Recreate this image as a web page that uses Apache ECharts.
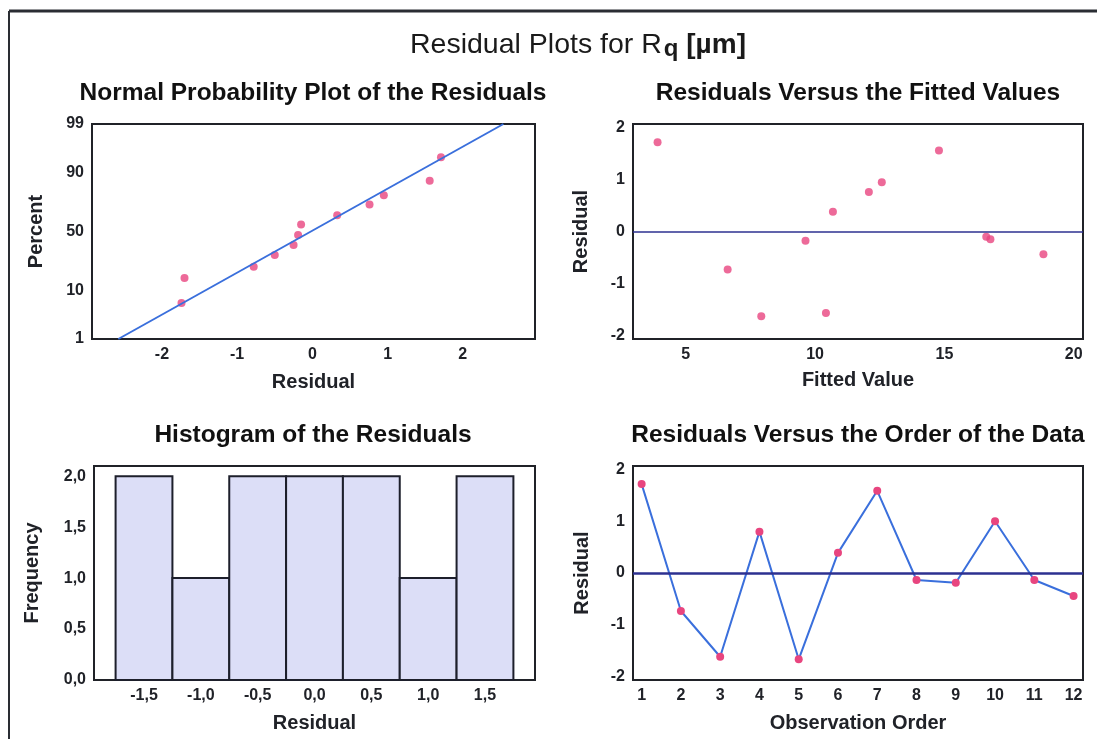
<!DOCTYPE html>
<html>
<head>
<meta charset="utf-8">
<script src="https://cdn.jsdelivr.net/npm/echarts@6/dist/echarts.min.js"></script>
<style>
  html, body { margin: 0; padding: 0; background: #ffffff; }
  #chart { width: 1097px; height: 739px; }
</style>
</head>
<body>
<div id="chart"></div>
<script>
// ---- Normal probability plot: residuals and their plotted percents ----
const probResidual = [-1.74, -1.70, -0.78, -0.50, -0.25, -0.19, -0.15, 0.33, 0.76, 0.95, 1.56, 1.71];
const probPercent  = [6.1, 15.7, 22.3, 30.5, 38.5, 47.0, 56.0, 63.7, 72.0, 78.4, 86.4, 94.6];
// fitted normal line, as (residual, percent) end points
const fitLineResidual = [-2.58, 2.54];
const fitLinePercent  = [1, 99];
const percentTicks = [1, 10, 50, 90, 99];
const probResidualTicks = [-2, -1, 0, 1, 2];

// ---- Residuals versus fitted values ----
const fittedValues = [3.91, 6.62, 7.92, 9.63, 10.42, 10.69, 12.08, 12.58, 14.79, 16.62, 16.78, 18.83];
const fittedResid  = [1.72, -0.73, -1.63, -0.18, -1.57, 0.38, 0.76, 0.95, 1.56, -0.10, -0.15, -0.44];
const fittedTicks = [5, 10, 15, 20];
const residTicks = [-2, -1, 0, 1, 2];

// ---- Histogram of the residuals ----
const binCenters = [-1.5, -1.0, -0.5, 0.0, 0.5, 1.0, 1.5];
const binCounts  = [2, 1, 2, 2, 2, 1, 2];
const binWidth = 0.5;
const freqTicks = [0, 0.5, 1.0, 1.5, 2.0];

// ---- Residuals versus observation order ----
const observation = [1, 2, 3, 4, 5, 6, 7, 8, 9, 10, 11, 12];
const orderResid  = [1.72, -0.735, -1.62, 0.80, -1.67, 0.39, 1.59, -0.135, -0.19, 1.00, -0.135, -0.445];

// inverse of the standard normal CDF (Acklam), used for the probability scale
function probit(p) {
  const a = [-3.969683028665376e+01, 2.209460984245205e+02, -2.759285104469687e+02, 1.383577518672690e+02, -3.066479806614716e+01, 2.506628277459239e+00];
  const b = [-5.447609879822406e+01, 1.615858368580409e+02, -1.556989798598866e+02, 6.680131188771972e+01, -1.328068155288572e+01];
  const c = [-7.784894002430293e-03, -3.223964580411365e-01, -2.400758277161838e+00, -2.549732539343734e+00, 4.374664141464968e+00, 2.938163982698783e+00];
  const d = [7.784695709041462e-03, 3.224671290700398e-01, 2.445134137142996e+00, 3.754408661907416e+00];
  const pl = 0.02425, ph = 1 - pl;
  let q, r;
  if (p < pl) {
    q = Math.sqrt(-2 * Math.log(p));
    return (((((c[0]*q+c[1])*q+c[2])*q+c[3])*q+c[4])*q+c[5]) / ((((d[0]*q+d[1])*q+d[2])*q+d[3])*q+1);
  }
  if (p <= ph) {
    q = p - 0.5; r = q * q;
    return (((((a[0]*r+a[1])*r+a[2])*r+a[3])*r+a[4])*r+a[5])*q / (((((b[0]*r+b[1])*r+b[2])*r+b[3])*r+b[4])*r+1);
  }
  q = Math.sqrt(-2 * Math.log(1 - p));
  return -(((((c[0]*q+c[1])*q+c[2])*q+c[3])*q+c[4])*q+c[5]) / ((((d[0]*q+d[1])*q+d[2])*q+d[3])*q+1);
}

const zTicks = percentTicks.map(p => probit(p / 100));
const zMin = probit(0.01), zMax = probit(0.99);

const FONT = 'Liberation Sans';
const INK = '#202228';
const PINK = '#e8457f';
const BLUE = '#3a6fdc';
const NAVY = '#2d3090';

const comma = v => v.toFixed(1).replace('.', ',');

function axisLabel(custom, formatter) {
  return {
    customValues: custom,
    formatter: formatter,
    color: INK,
    fontFamily: FONT,
    fontWeight: 'bold',
    fontSize: 16,
    margin: 8
  };
}
function nameStyle() {
  return { color: INK, fontFamily: FONT, fontWeight: 'bold', fontSize: 20 };
}
const noLine = { show: false };

const grids = [
  { left: 92,  top: 124, width: 443, height: 215 },
  { left: 633, top: 124, width: 450, height: 215 },
  { left: 94,  top: 466, width: 441, height: 214 },
  { left: 633, top: 466, width: 450, height: 214 }
].map(g => Object.assign(g, { show: true, borderColor: INK, borderWidth: 2, backgroundColor: '#ffffff' }));

const subtitle = (x, y, text) => ({
  type: 'text', x: x, y: y,
  style: { text: text, textAlign: 'center', textVerticalAlign: 'middle',
    fontFamily: FONT, fontWeight: 'bold', fontSize: 24.5, fill: '#111' }
});

const option = {
  animation: false,
  backgroundColor: '#ffffff',
  grid: grids,
  xAxis: [
    { gridIndex: 0, type: 'value', min: -2.93, max: 2.96,
      axisLine: noLine, axisTick: noLine, splitLine: noLine,
      axisLabel: axisLabel(probResidualTicks, v => String(v)),
      name: 'Residual', nameLocation: 'middle', nameGap: 33, nameTextStyle: nameStyle() },
    { gridIndex: 1, type: 'value', min: 2.96, max: 20.36,
      axisLine: noLine, axisTick: noLine, splitLine: noLine,
      axisLabel: axisLabel(fittedTicks, v => String(v)),
      name: 'Fitted Value', nameLocation: 'middle', nameGap: 31, nameTextStyle: nameStyle() },
    { gridIndex: 2, type: 'value', min: -1.94, max: 1.94,
      axisLine: noLine, axisTick: noLine, splitLine: noLine,
      axisLabel: axisLabel(binCenters, comma),
      name: 'Residual', nameLocation: 'middle', nameGap: 33, nameTextStyle: nameStyle() },
    { gridIndex: 3, type: 'value', min: 0.78, max: 12.24,
      axisLine: noLine, axisTick: noLine, splitLine: noLine,
      axisLabel: axisLabel(observation, v => String(v)),
      name: 'Observation Order', nameLocation: 'middle', nameGap: 33, nameTextStyle: nameStyle() }
  ],
  yAxis: [
    { gridIndex: 0, type: 'value', min: zMin, max: zMax,
      axisLine: noLine, axisTick: noLine, splitLine: noLine,
      axisLabel: axisLabel(zTicks, v => {
        let best = 0;
        zTicks.forEach((z, i) => { if (Math.abs(z - v) < Math.abs(zTicks[best] - v)) best = i; });
        return String(percentTicks[best]);
      }),
      name: 'Percent', nameLocation: 'middle', nameGap: 46, nameTextStyle: nameStyle() },
    { gridIndex: 1, type: 'value', min: -2.07, max: 2.07,
      axisLine: noLine, axisTick: noLine, splitLine: noLine,
      axisLabel: axisLabel(residTicks, v => String(v)),
      name: 'Residual', nameLocation: 'middle', nameGap: 42, nameTextStyle: nameStyle() },
    { gridIndex: 2, type: 'value', min: 0, max: 2.1,
      axisLine: noLine, axisTick: noLine, splitLine: noLine,
      axisLabel: axisLabel(freqTicks, comma),
      name: 'Frequency', nameLocation: 'middle', nameGap: 52, nameTextStyle: nameStyle() },
    { gridIndex: 3, type: 'value', min: -2.07, max: 2.07,
      axisLine: noLine, axisTick: noLine, splitLine: noLine,
      axisLabel: axisLabel(residTicks, v => String(v)),
      name: 'Residual', nameLocation: 'middle', nameGap: 41, nameTextStyle: nameStyle() }
  ],
  series: [
    // fitted normal line
    { type: 'line', xAxisIndex: 0, yAxisIndex: 0, symbol: 'none', silent: true,
      lineStyle: { color: BLUE, width: 2 },
      data: fitLineResidual.map((r, i) => [r, probit(fitLinePercent[i] / 100)]) },
    // residual points on the probability scale
    { type: 'scatter', xAxisIndex: 0, yAxisIndex: 0, symbolSize: 8,
      itemStyle: { color: PINK },
      data: probResidual.map((r, i) => [r, probit(probPercent[i] / 100)]) },
    // residuals versus fitted values
    { type: 'scatter', xAxisIndex: 1, yAxisIndex: 1, symbolSize: 8,
      itemStyle: { color: PINK },
      data: fittedValues.map((f, i) => [f, fittedResid[i]]),
      markLine: { silent: true, symbol: 'none', label: { show: false },
        lineStyle: { color: NAVY, width: 1.5, type: 'solid' }, data: [{ yAxis: 0 }] } },
    // histogram bars
    { type: 'custom', xAxisIndex: 2, yAxisIndex: 2,
      data: binCenters.map((c, i) => [c, binCounts[i]]),
      encode: { x: 0, y: 1 },
      renderItem: (params, api) => {
        const c = api.value(0), h = api.value(1);
        const p0 = api.coord([c - binWidth / 2, h]);
        const p1 = api.coord([c + binWidth / 2, 0]);
        return { type: 'rect',
          shape: { x: p0[0], y: p0[1], width: p1[0] - p0[0], height: p1[1] - p0[1] },
          style: { fill: '#dcdef7', stroke: '#1d1f2b', lineWidth: 2 } };
      } },
    // residuals versus observation order
    { type: 'line', xAxisIndex: 3, yAxisIndex: 3, symbol: 'circle', symbolSize: 8,
      itemStyle: { color: PINK }, lineStyle: { color: BLUE, width: 2 },
      data: observation.map((o, i) => [o, orderResid[i]]),
      markLine: { silent: true, symbol: 'none', label: { show: false },
        lineStyle: { color: NAVY, width: 2.5, type: 'solid' }, data: [{ yAxis: 0 }] } }
  ],
  graphic: [
    // outer frame (top and left edges)
    { type: 'line', shape: { x1: 9, y1: 11, x2: 1097, y2: 11 }, style: { stroke: '#2a2d33', lineWidth: 3 } },
    { type: 'line', shape: { x1: 9, y1: 11, x2: 9, y2: 739 }, style: { stroke: '#2a2d33', lineWidth: 2 } },
    // main title
    { type: 'text', x: 410, y: 45,
      style: { text: '{t|Residual Plots for R}{s|q}{b| [µm]}', textAlign: 'left', textVerticalAlign: 'middle',
        rich: {
          t: { fontFamily: FONT, fontSize: 28.5, fill: '#1a1a1a', lineHeight: 36, verticalAlign: 'middle' },
          s: { fontFamily: FONT, fontSize: 24, fontWeight: 'bold', fill: '#1a1a1a', lineHeight: 36, padding: [9, 0, 0, 2] },
          b: { fontFamily: FONT, fontSize: 28, fontWeight: 'bold', fill: '#1a1a1a', lineHeight: 36, verticalAlign: 'middle' }
        } } },
    // panel titles
    subtitle(313, 93, 'Normal Probability Plot of the Residuals'),
    subtitle(858, 93, 'Residuals Versus the Fitted Values'),
    subtitle(313, 435, 'Histogram of the Residuals'),
    subtitle(858, 435, 'Residuals Versus the Order of the Data')
  ]
};

const chart = echarts.init(document.getElementById('chart'), null, { renderer: 'canvas' });
chart.setOption(option);
</script>
</body>
</html>
